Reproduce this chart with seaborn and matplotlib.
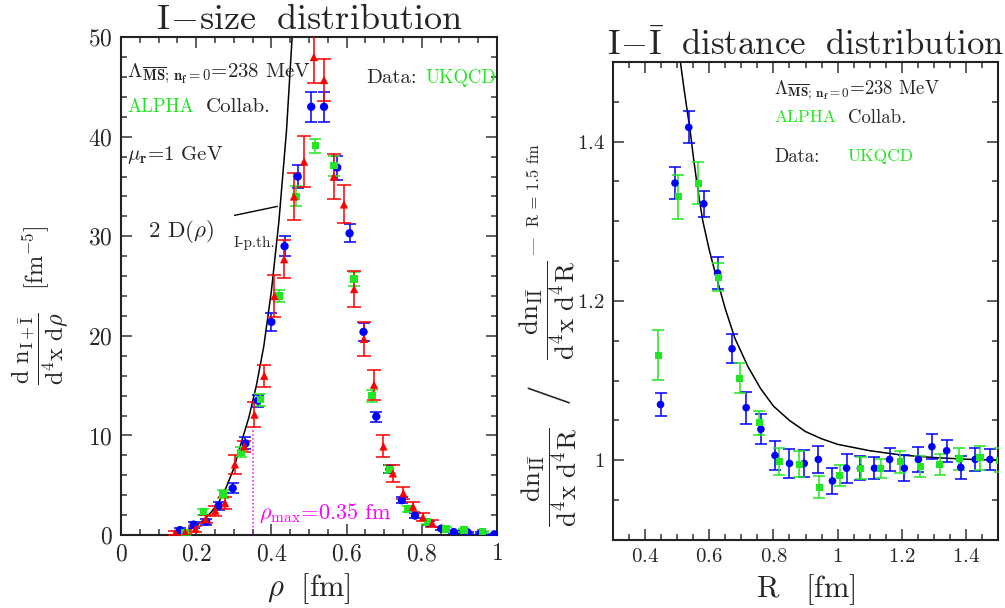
import matplotlib
matplotlib.use("Agg")
import matplotlib.pyplot as plt
from matplotlib.ticker import MultipleLocator, FuncFormatter
import seaborn as sns

# ---- left panel: I-size distribution ----
rho_blue = [0.157, 0.193, 0.227, 0.260, 0.297, 0.331, 0.364, 0.400, 0.435, 0.470, 0.506, 0.540, 0.575,
            0.608, 0.645, 0.679, 0.714, 0.747, 0.782, 0.818, 0.852, 0.885, 0.922, 0.957, 0.993]
dn_blue = [0.5, 1.05, 1.35, 2.95, 4.7, 9.2, 13.5, 21.4, 29.0, 36.0, 43.0, 43.0, 36.9,
           30.3, 20.4, 11.9, 6.6, 3.5, 1.95, 1.2, 0.65, 0.3, 0.25, 0.17, 0.07]
err_blue = [0.2, 0.3, 0.3, 0.4, 0.5, 0.6, 0.6, 0.9, 1.0, 1.2, 1.5, 1.5, 1.2,
            0.9, 0.9, 0.5, 0.4, 0.3, 0.25, 0.2, 0.15, 0.1, 0.1, 0.1, 0.05]

rho_green = [0.171, 0.219, 0.271, 0.319, 0.371, 0.421, 0.466, 0.517, 0.566, 0.619, 0.667, 0.716,
             0.764, 0.815, 0.864, 0.913, 0.962]
dn_green = [0.25, 2.35, 4.15, 8.3, 13.6, 24.0, 34.0, 39.1, 37.1, 25.7, 14.0, 6.6,
            2.6, 1.3, 0.6, 0.5, 0.3]
err_green = [0.2, 0.3, 0.4, 0.5, 0.6, 0.6, 1.0, 0.7, 1.0, 0.7, 0.6, 0.4,
             0.3, 0.2, 0.2, 0.15, 0.1]

rho_red = [0.144, 0.171, 0.198, 0.225, 0.251, 0.277, 0.303, 0.328, 0.355, 0.381, 0.408, 0.434, 0.460,
           0.487, 0.513, 0.540, 0.566, 0.593, 0.620, 0.646, 0.673, 0.698, 0.723, 0.751, 0.777, 0.803, 0.828]
dn_red = [0.2, 0.3, 0.65, 1.6, 2.45, 3.2, 7.1, 8.9, 12.1, 16.0, 24.0, 27.7, 34.0,
          37.5, 48.0, 45.7, 36.0, 33.2, 24.7, 19.7, 15.1, 8.9, 6.2, 4.2, 2.85, 1.8, 1.2]
err_red = [0.2, 0.2, 0.3, 0.4, 0.5, 0.6, 0.95, 0.55, 1.3, 1.1, 2.1, 1.9, 2.4,
           2.6, 2.6, 2.1, 2.3, 1.9, 1.8, 1.7, 1.5, 1.1, 0.85, 0.6, 0.5, 0.4, 0.35]

# perturbative curve 2 D(rho)
rho_curve = [0.14, 0.16, 0.18, 0.20, 0.22, 0.24, 0.26, 0.28, 0.30, 0.32, 0.34, 0.36, 0.38,
             0.40, 0.42, 0.44, 0.456]
d_curve = [0.15, 0.3, 0.55, 0.95, 1.5, 2.3, 3.3, 4.8, 6.7, 9.3, 11.8, 15.0, 19.0,
           24.5, 31.5, 40.5, 50.5]
rho_max = 0.35

# ---- right panel: I-Ibar distance distribution ----
R_blue = [0.448, 0.493, 0.536, 0.583, 0.626, 0.671, 0.715, 0.761, 0.805, 0.850, 0.896, 0.940,
          0.984, 1.028, 1.071, 1.115, 1.162, 1.208, 1.252, 1.294, 1.340, 1.384, 1.429, 1.475]
q_blue = [1.070, 1.348, 1.418, 1.322, 1.235, 1.140, 1.066, 1.039, 1.006, 0.996, 0.996, 1.001,
          0.974, 0.990, 0.990, 0.990, 1.001, 0.990, 1.001, 1.017, 1.012, 0.991, 1.001, 1.001]
qerr_blue = [0.015, 0.02, 0.02, 0.016, 0.02, 0.018, 0.02, 0.019, 0.018, 0.018, 0.017, 0.017,
             0.016, 0.018, 0.015, 0.014, 0.015, 0.016, 0.0155, 0.016, 0.0136, 0.0147, 0.015, 0.0136]

R_green = [0.441, 0.504, 0.565, 0.628, 0.695, 0.756, 0.818, 0.881, 0.943, 1.006, 1.072, 1.134,
           1.196, 1.258, 1.319, 1.380, 1.444, 1.506]
q_green = [1.132, 1.331, 1.348, 1.230, 1.103, 1.047, 0.998, 0.995, 0.966, 0.981, 0.990, 0.990,
           0.998, 0.992, 0.995, 1.002, 1.003, 1.0]
qerr_green = [0.031, 0.0275, 0.0265, 0.018, 0.0185, 0.015, 0.017, 0.016, 0.014, 0.013, 0.014, 0.012,
              0.0135, 0.0135, 0.013, 0.014, 0.015, 0.015]

R_curve = [0.51, 0.52, 0.53, 0.54, 0.55, 0.56, 0.57, 0.58, 0.60, 0.62, 0.65, 0.68, 0.72, 0.76,
           0.80, 0.85, 0.90, 0.95, 1.00, 1.10, 1.20, 1.30, 1.40, 1.50]
q_curve = [1.50, 1.47, 1.442, 1.415, 1.382, 1.352, 1.325, 1.300, 1.264, 1.233, 1.19, 1.153, 1.118, 1.09,
           1.068, 1.05, 1.036, 1.027, 1.02, 1.012, 1.0065, 1.0034, 1.0013, 1.0]

BLUE, GREEN, RED, MAG = "#0000ff", "#22e622", "#ff0000", "#ff00ff"

sns.set_style("ticks")
plt.rcParams["mathtext.fontset"] = "cm"
plt.rcParams["font.family"] = ["cmr10", "DejaVu Serif"]
plt.rcParams["axes.formatter.use_mathtext"] = True

fig = plt.figure(figsize=(10.05, 6.08), dpi=100)
ax1 = fig.add_axes([0.1204, 0.120, 0.3741, 0.819])
ax2 = fig.add_axes([0.610, 0.112, 0.383, 0.786])

mfmt = FuncFormatter(lambda v, pos: f"${v:g}$")


def style_axis(ax, xmaj, xmin, ymaj, ymin, size):
    ax.xaxis.set_major_locator(MultipleLocator(xmaj))
    ax.xaxis.set_minor_locator(MultipleLocator(xmin))
    ax.yaxis.set_major_locator(MultipleLocator(ymaj))
    ax.yaxis.set_minor_locator(MultipleLocator(ymin))
    ax.xaxis.set_major_formatter(mfmt)
    ax.yaxis.set_major_formatter(mfmt)
    ax.tick_params(which="both", direction="in", top=True, right=True, width=1.1, color="#333333")
    ax.tick_params(which="major", length=8, labelsize=size, pad=6)
    ax.tick_params(which="minor", length=4)
    for s in ax.spines.values():
        s.set_linewidth(1.5)
        s.set_color("#222222")


def series(ax, x, y, e, color, marker, s, cap):
    ax.errorbar(x, y, yerr=e, fmt="none", ecolor=color, elinewidth=1.3, capsize=cap,
                capthick=1.3, alpha=0.85, zorder=3)
    sns.scatterplot(x=x, y=y, ax=ax, color=color, marker=marker, s=s, edgecolor="none",
                    linewidth=0, zorder=4, legend=False)


# ---- left ----
sns.lineplot(x=rho_curve, y=d_curve, ax=ax1, color="black", lw=1.1, sort=False, estimator=None, zorder=2)
series(ax1, rho_blue, dn_blue, err_blue, BLUE, "o", 36, 4)
series(ax1, rho_green, dn_green, err_green, GREEN, "s", 30, 4)
series(ax1, rho_red, dn_red, err_red, RED, "^", 36, 5)
ax1.vlines(rho_max, 0, 10.8, colors=MAG, linestyles=(0, (1, 1.5)), lw=1.1, zorder=2)
ax1.set_xlim(0, 1)
ax1.set_ylim(0, 50)
style_axis(ax1, 0.2, 0.05, 10, 2, 17)

lam = r"$\Lambda_{\overline{\mathbf{MS}};\,\mathbf{n_f=0}}$=238 MeV"
ax1.text(0.016, 46.3, lam, fontsize=15, va="center")
ax1.text(0.016, 43.0, "ALPHA", fontsize=13.5, va="center", color=GREEN)
ax1.text(0.227, 43.0, "Collab.", fontsize=15, va="center")
ax1.text(0.016, 38.2, r"$\mu_\mathbf{r}$=1 GeV", fontsize=15, va="center")
ax1.text(0.653, 45.9, "Data:", fontsize=15, va="center")
ax1.text(0.811, 45.9, "UKQCD", fontsize=13.5, va="center", color=GREEN)
ax1.text(0.368, 2.2, r"$\rho_\mathrm{max}$=0.35 fm", fontsize=16, va="center", color=MAG)
ax1.text(0.072, 30.5, r"2 D($\rho$)", fontsize=16.5, va="center")
ax1.text(0.300, 29.3, "I-p.th.", fontsize=11, va="center")
ax1.annotate("", xy=(0.416, 33.0), xytext=(0.302, 32.1),
             arrowprops=dict(arrowstyle="-", lw=1.0, color="black", shrinkA=0, shrinkB=0))

ax1.set_title(r"$\mathrm{I\!-\!size\ \ distribution}$", fontsize=26, pad=6)
ax1.set_xlabel(r"$\rho\ \ \mathrm{[fm]}$", fontsize=22, labelpad=4)
fig.text(0.040, 0.498, r"$\dfrac{\mathrm{d\ n_{I+\bar{I}}}}{\mathrm{d^4x\ d}\rho}\quad\mathrm{[fm^{-5}]}$",
         fontsize=17.5, rotation=90, ha="center", va="center")

# ---- right ----
sns.lineplot(x=R_curve, y=q_curve, ax=ax2, color="black", lw=1.1, sort=False, estimator=None, zorder=2)
series(ax2, R_blue, q_blue, qerr_blue, BLUE, "o", 30, 4)
series(ax2, R_green, q_green, qerr_green, GREEN, "s", 26, 4)
ax2.set_xlim(0.3, 1.5)
ax2.set_ylim(0.9, 1.5)
style_axis(ax2, 0.2, 0.05, 0.2, 0.05, 15)

ax2.text(0.803, 1.465, lam, fontsize=13.5, va="center")
ax2.text(0.803, 1.430, "ALPHA", fontsize=12.5, va="center", color=GREEN)
ax2.text(1.031, 1.430, "Collab.", fontsize=13.5, va="center")
ax2.text(0.803, 1.381, "Data:", fontsize=13.5, va="center")
ax2.text(1.030, 1.381, "UKQCD", fontsize=12.5, va="center", color=GREEN)

ax2.set_title(r"$\mathrm{I\!-\!\bar{I}\ \ distance\ \ distribution}$", fontsize=25, pad=4)
ax2.set_xlabel(r"$\mathrm{R\ \ \ [fm]}$", fontsize=22, labelpad=4)
frac = r"$\dfrac{\mathrm{dn_{I\bar{I}}}}{\mathrm{d^4x\ d^4R}}$"
fig.text(0.547, 0.215, frac, fontsize=19.5, rotation=90, ha="center", va="center")
fig.text(0.545, 0.355, "/", fontsize=30, rotation=90, ha="center", va="center")
fig.text(0.545, 0.490, frac, fontsize=19.5, rotation=90, ha="center", va="center")
fig.text(0.532, 0.672, "|  R = 1.5 fm", fontsize=12, rotation=90, ha="center", va="center")

fig.savefig("out.png", dpi=100)
